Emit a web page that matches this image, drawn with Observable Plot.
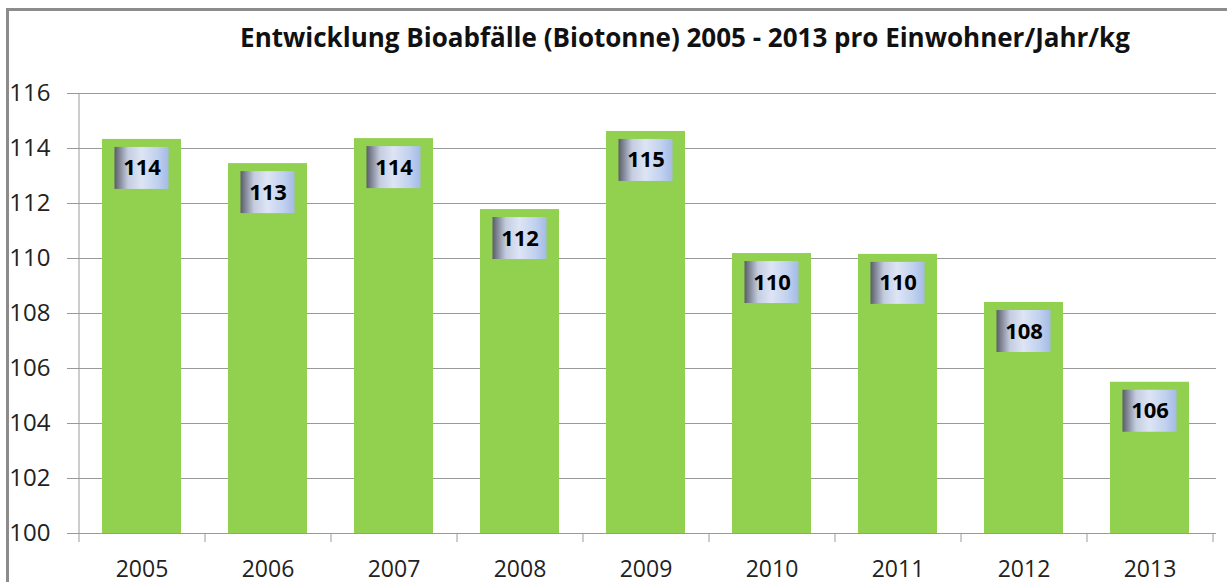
<!DOCTYPE html>
<html><head><meta charset="utf-8">
<script src="https://cdn.jsdelivr.net/npm/d3@7"></script>
<script src="https://cdn.jsdelivr.net/npm/@observablehq/plot@0.6"></script>
<style>
html,body{margin:0;padding:0;}
body{width:1227px;height:582px;overflow:hidden;background:#fff;position:relative;font-family:"Open Sans",sans-serif;}
#frame{position:absolute;left:6px;top:8px;width:1400px;height:800px;border:3px solid #8c8c8c;box-sizing:border-box;}
#title{position:absolute;left:0;width:1370px;top:24px;text-align:center;font-weight:bold;font-size:26px;line-height:1;color:#111;white-space:nowrap;}
#chart{position:absolute;left:0;top:0;}
</style>
</head><body>
<div id="frame"></div>
<div id="title">Entwicklung Bioabfälle (Biotonne) 2005 - 2013 pro Einwohner/Jahr/kg</div>
<div id="chart"></div>
<script>
const years = ["2005","2006","2007","2008","2009","2010","2011","2012","2013"];
const values = [114.33, 113.45, 114.36, 111.78, 114.62, 110.18, 110.15, 108.4, 105.5];
const labels = ["114","113","114","112","115","110","110","108","106"];
const yTicks = [100,102,104,106,108,110,112,114,116];

const data = years.map((year, i) => ({year, value: values[i], label: labels[i]}));

const base = {
  width: 1227, height: 582,
  marginLeft: 75, marginRight: 11, marginTop: 93, marginBottom: 49,
  style: {fontFamily: "Open Sans", background: "transparent", overflow: "visible"},
  x: {type: "band", domain: years, paddingInner: 0.37, paddingOuter: 0.185, label: null},
  y: {domain: [100, 116], label: null}
};

const probe = Plot.plot({...base, marks: [Plot.barY(data, {x: "year", y1: 100, y2: "value"})]});
const sx = probe.scale("x");
const step = sx.step ?? sx.bandwidth / (1 - 0.37);
const half = step / 2;
const axisColor = "#9a9a9a";

const plot = Plot.plot({
  ...base,
  marks: [
    Plot.gridY(yTicks, {stroke: axisColor, strokeOpacity: 1}),
    Plot.axisY(yTicks, {tickSize: 8, tickPadding: 17, fontSize: 24, stroke: axisColor, fill: "#222", label: null}),
    Plot.axisX(years, {tickSize: 0, tickPadding: 27, fontSize: 23, fill: "#222", label: null}),
    Plot.ruleX([years[0]], {x: d => d, dx: -half, y1: 100, y2: 116, stroke: axisColor}),
    Plot.ruleY([100], {stroke: axisColor}),
    Plot.ruleX(years, {x: d => d, dx: -half, y1: 100, y2: 100, insetBottom: -9, stroke: axisColor}),
    Plot.ruleX([years[years.length - 1]], {x: d => d, dx: half, y1: 100, y2: 100, insetBottom: -9, stroke: axisColor}),
    Plot.barY(data, {x: "year", y1: 100, y2: "value", fill: "#92d050"}),
    Plot.barY(data, {x: "year", y1: "value", y2: "value", insetLeft: 12.5, insetRight: 12.5, insetTop: 8, insetBottom: -50, fill: "url(#lblgrad)"}),
    Plot.text(data, {x: "year", y: "value", text: "label", dy: 29, fontSize: 22, fontWeight: "bold", fill: "#000"})
  ]
});

d3.select(plot).insert("defs", ":first-child").html(
  `<linearGradient id="lblgrad" x1="0" y1="0" x2="1" y2="0">
     <stop offset="0" stop-color="#5a5c66"/>
     <stop offset="0.08" stop-color="#7c8190"/>
     <stop offset="0.25" stop-color="#c4cde0"/>
     <stop offset="0.5" stop-color="#dde5f5"/>
     <stop offset="0.8" stop-color="#c0d0ee"/>
     <stop offset="1" stop-color="#a4bbe6"/>
   </linearGradient>`
);
document.getElementById("chart").appendChild(plot);
</script>
</body></html>
